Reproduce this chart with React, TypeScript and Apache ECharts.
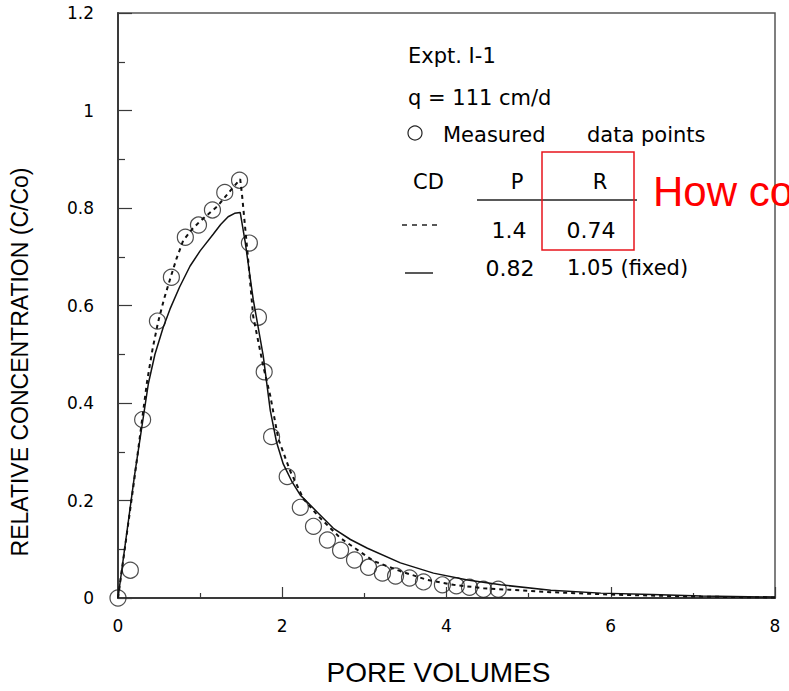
import React, { useEffect, useRef } from "react";
import * as echarts from "echarts";

// Measured data points (pore volumes, C/Co)
const measuredX = [0, 0.15, 0.30, 0.48, 0.65, 0.82, 0.98, 1.15, 1.30, 1.48, 1.60, 1.71, 1.78, 1.87, 2.06, 2.22, 2.38, 2.55, 2.71, 2.88, 3.05, 3.22, 3.38, 3.55, 3.72, 3.95, 4.12, 4.28, 4.45, 4.63];
const measuredY = [0, 0.057, 0.366, 0.568, 0.658, 0.740, 0.765, 0.796, 0.832, 0.857, 0.728, 0.576, 0.464, 0.331, 0.249, 0.186, 0.147, 0.119, 0.098, 0.078, 0.063, 0.051, 0.045, 0.041, 0.033, 0.027, 0.025, 0.022, 0.018, 0.018];

// CD fit, P = 1.4, R = 0.74 (dashed)
const dashedX = [0, 0.2, 0.354, 0.42, 0.488, 0.56, 0.634, 0.71, 0.793, 0.9, 1.0, 1.207, 1.366, 1.488, 1.512, 1.573, 1.646, 1.768, 1.854, 1.951, 2.098, 2.256, 2.427, 2.707, 3.11, 3.439, 3.768, 4.085, 4.451, 5.27, 6.0, 7.0, 8.0];
const dashedY = [0, 0.245, 0.444, 0.51, 0.566, 0.613, 0.654, 0.695, 0.733, 0.756, 0.773, 0.803, 0.835, 0.859, 0.824, 0.716, 0.578, 0.476, 0.415, 0.327, 0.26, 0.204, 0.170, 0.123, 0.076, 0.055, 0.037, 0.027, 0.020, 0.012, 0.007, 0.003, 0.001];

// CD fit, P = 0.82, R = 1.05 fixed (solid)
const solidX = [0, 0.2, 0.37, 0.45, 0.55, 0.634, 0.75, 0.878, 1.0, 1.159, 1.25, 1.341, 1.42, 1.488, 1.549, 1.646, 1.768, 1.854, 1.93, 2.012, 2.12, 2.22, 2.427, 2.622, 2.83, 3.037, 3.439, 3.841, 4.256, 4.659, 5.27, 5.88, 6.5, 7.1, 8.0];
const solidY = [0, 0.25, 0.44, 0.50, 0.555, 0.593, 0.638, 0.681, 0.712, 0.746, 0.766, 0.782, 0.789, 0.791, 0.730, 0.613, 0.497, 0.385, 0.32, 0.275, 0.238, 0.211, 0.176, 0.143, 0.12, 0.102, 0.072, 0.051, 0.037, 0.027, 0.016, 0.010, 0.007, 0.004, 0.002];

const xTicks = { min: 0, max: 8, interval: 2 };
const yTicks = { min: 0, max: 1.2, interval: 0.2 };

const zip = (xs: number[], ys: number[]) => xs.map((x, i) => [x, ys[i]]);

const TXT = "DejaVu Sans";
const ARIAL = "Liberation Sans";

export default function App() {
  const ref = useRef<HTMLDivElement>(null);
  useEffect(() => {
    if (!ref.current) return;
    const chart = echarts.init(ref.current, null, { renderer: "svg" });
    const axisColor = "#3a3a3a";
    chart.setOption({
      animation: false,
      backgroundColor: "#ffffff",
      grid: {
        left: 118,
        right: 14,
        top: 13,
        bottom: 91,
        show: true,
        borderColor: "#555",
        borderWidth: 1.5,
        backgroundColor: "transparent",
      },
      xAxis: {
        type: "value",
        min: xTicks.min,
        max: xTicks.max,
        interval: xTicks.interval,
        name: "PORE VOLUMES",
        nameLocation: "middle",
        nameGap: 60,
        nameTextStyle: { fontFamily: ARIAL, fontSize: 28, color: "#000", padding: [0, 16, 0, 0] },
        axisLine: { lineStyle: { color: axisColor, width: 2 } },
        axisTick: { show: true, inside: true, length: 11, lineStyle: { color: axisColor, width: 1.2 } },
        minorTick: { show: true, splitNumber: 2, length: 5, lineStyle: { color: axisColor, width: 1.2 } },
        axisLabel: { fontFamily: TXT, fontSize: 17, color: "#000", margin: 19 },
        splitLine: { show: false },
      },
      yAxis: {
        type: "value",
        min: yTicks.min,
        max: yTicks.max,
        interval: yTicks.interval,
        axisLine: { show: true, lineStyle: { color: axisColor, width: 2 } },
        axisTick: { show: true, inside: true, length: 14, lineStyle: { color: axisColor, width: 1.2 } },
        minorTick: { show: true, splitNumber: 2, length: 7, lineStyle: { color: axisColor, width: 1.2 } },
        axisLabel: { fontFamily: TXT, fontSize: 17, color: "#000", margin: 24 },
        splitLine: { show: false },
      },
      series: [
        {
          name: "Measured data points",
          type: "scatter",
          data: zip(measuredX, measuredY),
          symbol: "circle",
          symbolSize: 16,
          itemStyle: { color: "rgba(0,0,0,0)", borderColor: "#222", borderWidth: 1.2 },
          z: 2,
        },
        {
          name: "CD P=1.4 R=0.74",
          type: "line",
          data: zip(dashedX, dashedY),
          showSymbol: false,
          symbol: "none",
          lineStyle: { color: "#111", width: 2, type: [4, 4] },
          z: 3,
        },
        {
          name: "CD P=0.82 R=1.05 (fixed)",
          type: "line",
          data: zip(solidX, solidY),
          showSymbol: false,
          symbol: "none",
          lineStyle: { color: "#111", width: 1.5 },
          z: 3,
        },
      ],
      graphic: [
        {
          type: "text",
          x: 20,
          y: 362,
          rotation: Math.PI / 2,
          style: { text: "RELATIVE CONCENTRATION (C/Co)", fontFamily: ARIAL, fontSize: 23, fill: "#000", align: "center", verticalAlign: "middle" },
        },
        { type: "text", x: 408, y: 56, style: { text: "Expt. I-1", fontFamily: TXT, fontSize: 21, fill: "#000", verticalAlign: "middle" } },
        { type: "text", x: 408, y: 98, style: { text: "q = 111 cm/d", fontFamily: TXT, fontSize: 21, fill: "#000", verticalAlign: "middle" } },
        { type: "circle", shape: { cx: 415, cy: 133, r: 7 }, style: { fill: "none", stroke: "#222", lineWidth: 1.2 } },
        { type: "text", x: 443, y: 135, style: { text: "Measured", fontFamily: TXT, fontSize: 21, fill: "#000", verticalAlign: "middle" } },
        { type: "text", x: 587, y: 135, style: { text: "data points", fontFamily: TXT, fontSize: 21, fill: "#000", verticalAlign: "middle" } },
        { type: "text", x: 413, y: 182, style: { text: "CD", fontFamily: TXT, fontSize: 21, fill: "#000", verticalAlign: "middle" } },
        { type: "text", x: 517, y: 182, style: { text: "P", fontFamily: TXT, fontSize: 21, fill: "#000", align: "center", verticalAlign: "middle" } },
        { type: "text", x: 600, y: 182, style: { text: "R", fontFamily: TXT, fontSize: 21, fill: "#000", align: "center", verticalAlign: "middle" } },
        { type: "line", shape: { x1: 477, y1: 200, x2: 637, y2: 200 }, style: { stroke: "#222", lineWidth: 1.5 } },
        { type: "line", shape: { x1: 402, y1: 225, x2: 440, y2: 225 }, style: { stroke: "#222", lineWidth: 1.5, lineDash: [5, 5] } },
        { type: "text", x: 509, y: 230, style: { text: "1.4", fontFamily: TXT, fontSize: 22, fill: "#000", align: "center", verticalAlign: "middle" } },
        { type: "text", x: 591, y: 230, style: { text: "0.74", fontFamily: TXT, fontSize: 22, fill: "#000", align: "center", verticalAlign: "middle" } },
        { type: "line", shape: { x1: 405, y1: 273, x2: 433, y2: 273 }, style: { stroke: "#222", lineWidth: 1.5 } },
        { type: "text", x: 510, y: 268, style: { text: "0.82", fontFamily: TXT, fontSize: 22, fill: "#000", align: "center", verticalAlign: "middle" } },
        { type: "text", x: 567, y: 268, style: { text: "1.05 (fixed)", fontFamily: TXT, fontSize: 21, fill: "#000", verticalAlign: "middle" } },
        { type: "rect", shape: { x: 542, y: 152, width: 92, height: 98 }, style: { fill: "none", stroke: "#e8141c", lineWidth: 1.5 } },
        { type: "text", x: 653, y: 191, style: { text: "How co", fontFamily: ARIAL, fontSize: 42, fill: "#ff0000", verticalAlign: "middle" } },
      ],
    });
    return () => chart.dispose();
  }, []);
  return <div ref={ref} style={{ position: "fixed", left: 0, top: 0, width: 789, height: 691, background: "#fff" }} />;
}
